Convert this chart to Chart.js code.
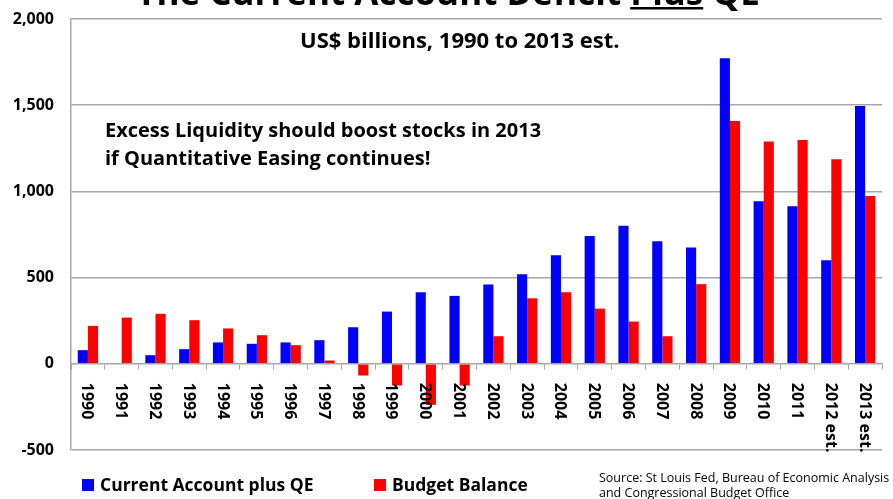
<!DOCTYPE html>
<html>
<head>
<meta charset="utf-8">
<title>The Current Account Deficit Plus QE</title>
<script src="https://cdn.jsdelivr.net/npm/chart.js@4.4.1/dist/chart.umd.min.js"></script>
<style>
  html, body { margin: 0; padding: 0; background: #fff; }
  #wrap { width: 893px; height: 499px; }
</style>
</head>
<body>
<div id="wrap"><canvas id="qeChart" width="893" height="499"></canvas></div>
<script>
// US$ billions, 1990 to 2013 est.
const years = [
  '1990', '1991', '1992', '1993', '1994', '1995', '1996', '1997',
  '1998', '1999', '2000', '2001', '2002', '2003', '2004', '2005',
  '2006', '2007', '2008', '2009', '2010', '2011', '2012 est.', '2013 est.'
];
const currentAccountQE = [
  79, 0, 50, 85, 124, 116, 124, 137,
  212, 303, 415, 394, 460, 520, 630, 742,
  801, 711, 674, 1773, 943, 914, 601, 1495
];
const budgetBalance = [
  220, 268, 290, 253, 205, 166, 108, 19,
  -68, -126, -238, -126, 160, 380, 415, 320,
  245, 160, 462, 1408, 1290, 1298, 1186, 973
];
const yTicks = [-500, 0, 500, 1000, 1500, 2000];

const FONT = "'Open Sans', sans-serif";
const GRID = '#a6a6a6';

// titles, notes, year labels and legend drawn straight onto the canvas
const qeText = {
  id: 'qeText',
  afterDraw(chart) {
    const { ctx, scales: { x, y } } = chart;
    ctx.save();
    ctx.fillStyle = '#000';

    // year labels, turned to read downwards
    ctx.font = `bold 16px ${FONT}`;
    ctx.textAlign = 'left';
    ctx.textBaseline = 'middle';
    const y0 = y.getPixelForValue(0);
    chart.data.labels.forEach((lab, i) => {
      ctx.save();
      ctx.translate(x.getPixelForValue(i) - 1, y0 + 19);
      ctx.rotate(Math.PI / 2);
      ctx.fillText(lab, 0, 0);
      ctx.restore();
    });

    ctx.textBaseline = 'alphabetic';

    // main title, runs off the top edge
    ctx.font = `bold 35px ${FONT}`;
    const t1 = 'The Current Account Deficit ', t2 = 'Plus', t3 = ' QE';
    const w1 = ctx.measureText(t1).width;
    const w2 = ctx.measureText(t2).width;
    const w3 = ctx.measureText(t3).width;
    const tx = 448 - (w1 + w2 + w3) / 2;
    const tb = 5;
    ctx.fillText(t1, tx, tb);
    ctx.fillText(t2, tx + w1, tb);
    ctx.fillText(t3, tx + w1 + w2, tb);
    ctx.fillRect(tx + w1, tb + 2, w2, 2.5);

    ctx.font = `bold 22px ${FONT}`;
    ctx.fillText('US$ billions, 1990 to 2013 est.', 300, 48);

    ctx.font = `bold 20px ${FONT}`;
    ctx.fillText('Excess Liquidity should boost stocks in 2013', 105, 137);
    ctx.fillText('if Quantitative Easing continues!', 105, 165);

    // legend
    ctx.font = `bold 17.5px ${FONT}`;
    const legendX = [82, 374];
    chart.data.datasets.forEach((ds, i) => {
      ctx.fillStyle = ds.backgroundColor;
      ctx.fillRect(legendX[i], 479, 12, 12);
      ctx.fillStyle = '#000';
      ctx.fillText(ds.label, legendX[i] + 18, 491);
    });

    ctx.font = `12.5px ${FONT}`;
    ctx.fillText('Source: St Louis Fed, Bureau of Economic Analysis', 599, 482);
    ctx.fillText('and Congressional Budget Office', 599, 497);
    ctx.restore();
  }
};

new Chart(document.getElementById('qeChart'), {
  type: 'bar',
  data: {
    labels: years,
    datasets: [
      {
        label: 'Current Account plus QE',
        data: currentAccountQE,
        backgroundColor: '#0000ff',
        categoryPercentage: 0.6,
        barPercentage: 1.0
      },
      {
        label: 'Budget Balance',
        data: budgetBalance,
        backgroundColor: '#ff0000',
        categoryPercentage: 0.6,
        barPercentage: 1.0
      }
    ]
  },
  options: {
    responsive: false,
    animation: false,
    layout: { padding: { top: 19, right: 11, bottom: 49, left: 0 } },
    plugins: {
      legend: { display: false },
      title: { display: false },
      tooltip: { enabled: false }
    },
    scales: {
      x: {
        position: { y: 0 },
        ticks: { display: false },
        grid: {
          offset: true,
          drawOnChartArea: false,
          drawTicks: true,
          tickLength: 5,
          color: GRID,
          lineWidth: 1
        },
        border: { color: GRID, width: 1.5 }
      },
      y: {
        min: -500,
        max: 2000,
        afterBuildTicks: (scale) => {
          scale.ticks = yTicks.map(v => ({ value: v }));
        },
        afterFit: (scale) => {
          // fixed gutter; the outer padding already leaves room for the end labels
          scale.width = 71;
          scale.paddingTop = 0;
          scale.paddingBottom = 0;
        },
        ticks: {
          color: '#000',
          padding: 17,
          font: { family: FONT, size: 16, weight: 'bold' },
          callback: (v) => v.toLocaleString('en-US')
        },
        grid: {
          color: (c) => (c.tick && c.tick.value === 0 ? 'rgba(0,0,0,0)' : GRID),
          lineWidth: 1.5,
          drawTicks: false
        },
        border: { color: GRID, width: 1.5 }
      }
    }
  },
  plugins: [qeText]
});
</script>
</body>
</html>
